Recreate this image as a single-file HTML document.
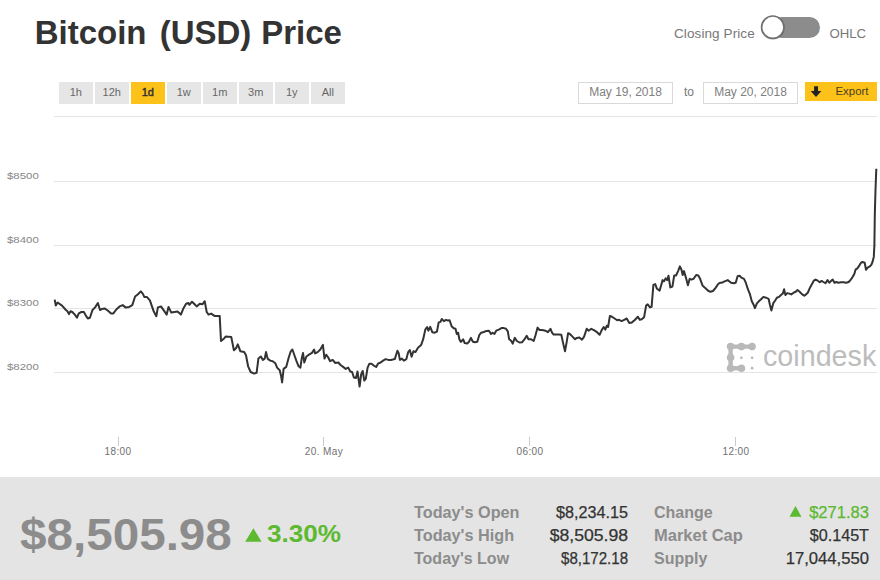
<!DOCTYPE html>
<html><head><meta charset="utf-8">
<style>
*{box-sizing:border-box;margin:0;padding:0}
html,body{width:880px;height:580px;overflow:hidden;background:#fff}
body{position:relative;font-family:"Liberation Sans",sans-serif;color:#333}
.abs{position:absolute;white-space:nowrap}
.tw{top:11px;font-size:33px;font-weight:bold;color:#333;line-height:44px}
.rb{top:82px;width:33.5px;height:22px;background:#e6e6e6;color:#666;font-size:11px;line-height:20px;text-align:center}
.rb.on{background:#fcc219;color:#333;-webkit-text-stroke:0.450px #333}
.inp{top:82px;height:22px;width:95px;border:1px solid #d9d9d9;background:#fff;color:#808080;font-size:12px;line-height:18px;text-align:center}
#to{left:684px;top:82px;font-size:12px;line-height:20px;color:#777}
#exp{left:805px;top:82px;width:72px;height:18.500px;background:#fcc219;color:#4a4020;font-size:11.400px;line-height:19.500px}
#cp{left:674px;top:26px;font-size:13.500px;letter-spacing:0.1px;line-height:16px;color:#777}
#ohlc{left:829.500px;top:26px;font-size:13.200px;line-height:16px;color:#777}
#tog{left:771px;top:17px;width:49px;height:21px;border-radius:10.500px;background:#8c8c8c}
#knob{left:761px;top:15.300px;width:24px;height:24px;border-radius:50%;background:#fff;border:1.600px solid #707070;box-shadow:0 1px 1.500px rgba(0,0,0,.3)}
.yl{left:7px;font-size:9.600px;color:#858585;line-height:12px;transform:scaleX(1.19);transform-origin:0 50%}
.xl{font-size:10px;color:#707070;line-height:12px;top:446px;text-align:center;width:60px;letter-spacing:0.4px}
#foot{left:0;top:477px;width:880px;height:103px;background:#e6e6e6}
#big{left:19.800px;top:508.200px;font-size:44.500px;font-weight:bold;color:#8c8c8c;line-height:54px;transform:scaleX(1.07);transform-origin:0 50%}
#pct{left:266.500px;top:519.400px;font-size:24.500px;font-weight:bold;color:#5cb930;line-height:30px;transform:scaleX(1.065);transform-origin:0 50%}
#cd{left:763px;top:338px;font-size:29.500px;line-height:36px;color:#bcbcbc;transform:scaleX(0.973);transform-origin:0 50%}
.sl{font-size:16px;font-weight:bold;color:#8c8c8c;line-height:20px}
.sv{font-size:16px;color:#333;line-height:20px;text-align:right;transform-origin:100% 50%;-webkit-text-stroke:0.25px #333}
.sl{transform-origin:0 50%}
</style></head><body>
<div class="abs tw" style="left:34.700px">Bitcoin</div><div class="abs tw" style="left:159.700px">(USD)</div><div class="abs tw" style="left:261.200px">Price</div>

<div id="cp" class="abs">Closing Price</div>
<div id="tog" class="abs"></div>
<div id="ohlc" class="abs">OHLC</div>

<div class="abs rb" style="left:59px">1h</div>
<div class="abs rb" style="left:95px">12h</div>
<div class="abs rb on" style="left:131px">1d</div>
<div class="abs rb" style="left:167px">1w</div>
<div class="abs rb" style="left:203px">1m</div>
<div class="abs rb" style="left:239px">3m</div>
<div class="abs rb" style="left:275px">1y</div>
<div class="abs rb" style="left:311px">All</div>

<div class="abs inp" style="left:578px">May 19, 2018</div>
<div id="to" class="abs">to</div>
<div class="abs inp" style="left:703px">May 20, 2018</div>
<div id="exp" class="abs"><span class="abs" style="left:30.500px">Export</span></div>

<svg class="abs" style="left:0;top:0" width="880" height="580" viewBox="0 0 880 580">
<rect x="0" y="477" width="880" height="103" fill="#e4e4e4"/>
<g stroke="#e4e4e4" stroke-width="1" shape-rendering="crispEdges">
<line x1="54" x2="877" y1="116.500" y2="116.500"/>
<line x1="54" x2="877" y1="181.500" y2="181.500"/>
<line x1="54" x2="877" y1="245.500" y2="245.500"/>
<line x1="54" x2="877" y1="308.500" y2="308.500"/>
<line x1="54" x2="877" y1="372.500" y2="372.500"/>
</g>
<g stroke="#c9cbd6" stroke-width="1" shape-rendering="crispEdges">
<line x1="118.500" x2="118.500" y1="437" y2="446"/>
<line x1="323.500" x2="323.500" y1="437" y2="446"/>
<line x1="529.500" x2="529.500" y1="437" y2="446"/>
<line x1="735.500" x2="735.500" y1="437" y2="446"/>
</g>
<path d="M245.200 541.800L253.400 528.300L261.600 541.800z" fill="#5cb930"/>
<path d="M789.500 516.800L795.500 506L801.500 516.800z" fill="#5cb930"/>
<path d="M814.100 86.200H818V91H821.400L816 97.100L810.700 91H814.100Z" fill="#222"/>
<circle cx="772.800" cy="28.100" r="11.800" fill="rgba(0,0,0,0.13)"/><circle cx="772.800" cy="27.200" r="11.200" fill="#fff" stroke="#707070" stroke-width="1.700"/>
<g fill="#b9b9b9" stroke="none">
<circle cx="730.6" cy="346.6" r="3.8"/><circle cx="741.4" cy="346.6" r="3.8"/><circle cx="752.1" cy="346.6" r="3.8"/>
<circle cx="730.6" cy="357.5" r="3.8"/><circle cx="730.6" cy="368.2" r="3.8"/><circle cx="741.4" cy="368.2" r="3.8"/>
<circle cx="741.4" cy="357.8" r="1.4"/><circle cx="752.1" cy="357.8" r="1.4"/><circle cx="752.1" cy="368.2" r="1.4"/>
</g>
<path d="M752.1 346.6H730.6V368.2H741.4" fill="none" stroke="#b9b9b9" stroke-width="4.400" stroke-linejoin="round"/>

<path d="M54.7 299.6 L55.8 305.6 L57.6 302.5 L62.0 305.6 L65.9 310.0 L67.1 310.8 L69.0 314.1 L70.5 311.3 L72.3 312.0 L74.9 314.6 L77.0 317.7 L78.8 313.3 L81.4 312.0 L83.9 312.0 L86.0 315.9 L87.8 318.5 L89.9 317.7 L92.5 310.0 L95.1 307.4 L97.9 303.0 L100.0 310.0 L102.0 308.9 L104.6 308.4 L107.7 310.5 L111.1 313.6 L113.2 313.6 L116.3 309.5 L119.6 306.4 L122.7 305.1 L125.8 307.6 L129.2 306.9 L132.3 305.1 L135.1 296.5 L137.7 294.5 L140.8 291.4 L142.9 293.9 L144.4 297.1 L147.0 297.1 L149.9 300.4 L151.7 305.6 L153.7 311.3 L156.3 316.2 L157.9 307.4 L161.0 306.4 L164.1 310.8 L166.7 314.6 L168.5 306.9 L171.3 312.6 L174.4 312.0 L177.5 311.5 L180.9 314.6 L183.5 308.2 L186.1 303.8 L188.4 303.0 L189.4 304.8 L192.0 301.7 L194.6 304.3 L196.7 306.4 L199.8 303.8 L202.4 304.3 L204.7 301.2 L206.7 312.0 L208.6 314.6 L211.1 313.6 L214.5 315.9 L219.7 315.9 L221.0 341.0 L224.1 338.4 L225.6 336.6 L231.3 337.1 L233.9 350.3 L236.0 348.2 L237.8 344.4 L240.4 351.3 L244.2 352.1 L246.0 355.2 L248.1 366.3 L250.7 372.0 L254.1 373.6 L256.6 372.8 L258.4 358.6 L260.9 356.5 L262.9 359.9 L264.7 358.6 L266.0 352.1 L267.6 358.6 L270.2 360.6 L272.7 361.2 L275.3 363.2 L277.1 367.6 L279.7 370.2 L281.0 375.4 L282.1 382.4 L283.6 368.9 L286.2 366.9 L288.8 357.3 L290.8 351.3 L292.4 349.5 L294.5 355.5 L296.5 361.2 L298.6 366.3 L300.4 367.6 L301.7 358.6 L303.0 352.9 L304.3 362.5 L306.4 356.5 L308.9 354.7 L312.0 352.9 L314.1 349.5 L315.1 353.4 L317.7 352.1 L320.3 349.5 L322.9 344.9 L324.5 358.6 L326.3 354.7 L328.1 357.3 L330.1 361.2 L332.7 359.9 L335.3 363.0 L338.4 362.5 L340.5 365.0 L343.1 366.9 L345.7 368.9 L348.2 367.6 L350.3 371.5 L352.1 372.0 L353.9 377.5 L356.0 378.0 L357.5 371.5 L359.6 386.5 L361.2 374.1 L362.7 371.0 L364.3 380.6 L365.8 378.7 L367.6 367.6 L369.4 363.7 L371.5 363.7 L374.1 365.8 L376.2 366.9 L378.0 363.7 L380.6 362.5 L383.1 360.6 L385.7 359.1 L388.3 359.9 L390.9 359.9 L394.8 359.1 L397.4 350.8 L398.6 352.9 L399.9 359.9 L402.0 358.6 L403.8 360.6 L406.4 359.1 L408.2 352.1 L409.8 350.0 L411.6 356.8 L413.4 351.3 L415.5 352.1 L418.0 347.7 L421.1 345.1 L423.2 339.2 L425.3 329.6 L427.1 327.0 L428.4 330.7 L430.2 326.8 L432.3 332.2 L434.8 332.7 L436.9 331.7 L438.7 322.4 L440.5 321.9 L441.8 319.0 L443.9 321.1 L446.0 319.8 L447.8 320.6 L449.6 320.3 L451.6 326.3 L453.7 328.3 L455.5 328.8 L456.8 334.0 L458.1 332.7 L459.4 339.2 L460.7 341.8 L461.3 341.8 L463.1 339.2 L464.7 343.1 L467.2 343.6 L469.0 341.8 L470.9 337.9 L472.9 341.8 L475.0 342.3 L477.3 341.8 L479.4 334.8 L481.2 332.7 L483.8 332.0 L486.4 330.9 L489.0 330.7 L491.0 334.0 L492.6 332.7 L494.4 334.0 L496.2 330.7 L498.8 329.6 L501.4 328.1 L503.9 328.1 L506.0 328.8 L507.8 331.4 L509.1 339.2 L510.9 340.5 L512.7 343.6 L514.8 337.9 L516.9 341.0 L519.5 342.5 L522.0 342.3 L524.6 339.2 L526.7 335.8 L528.5 339.2 L531.1 339.2 L533.7 341.0 L535.5 335.3 L537.6 327.6 L539.6 330.1 L542.2 330.1 L545.3 330.7 L547.9 332.2 L550.5 328.8 L552.0 332.7 L553.6 334.5 L556.2 334.5 L558.8 334.5 L561.3 334.8 L563.4 344.4 L565.0 351.3 L566.5 343.1 L568.1 333.2 L569.9 334.0 L572.5 336.6 L575.0 339.2 L576.9 337.9 L579.4 337.4 L582.0 339.7 L584.1 336.6 L586.7 328.8 L588.7 330.7 L591.3 328.8 L593.9 330.1 L597.0 332.2 L599.6 334.8 L601.7 330.1 L603.7 327.0 L605.3 329.6 L606.8 325.7 L608.1 327.0 L609.9 315.9 L612.0 316.7 L614.6 318.5 L617.2 320.3 L619.0 319.8 L621.6 321.1 L624.2 319.8 L626.7 318.5 L629.3 322.9 L631.9 322.4 L634.5 320.3 L637.9 316.7 L639.7 319.8 L641.7 319.3 L644.1 317.2 L646.1 305.6 L647.7 304.3 L650.0 307.4 L651.6 306.9 L653.4 284.9 L655.2 284.1 L657.0 288.8 L659.6 290.6 L661.3 284.8 L662.6 280.1 L663.9 281.4 L665.7 278.3 L667.2 280.1 L668.5 275.7 L670.3 287.4 L672.4 286.6 L674.2 275.5 L676.0 275.5 L678.1 271.1 L679.9 266.4 L681.5 269.8 L682.7 275.0 L684.0 271.1 L685.9 277.6 L687.9 285.3 L689.7 278.8 L691.5 279.6 L693.6 278.8 L696.2 275.0 L698.3 275.5 L700.1 278.8 L702.7 285.8 L705.2 287.9 L707.8 290.5 L710.4 291.8 L713.0 291.0 L715.6 287.9 L718.2 284.0 L720.0 282.7 L722.0 282.7 L724.6 281.4 L727.7 280.1 L731.1 282.7 L733.7 283.2 L735.7 282.7 L737.6 276.3 L739.6 275.7 L741.4 277.6 L744.0 278.8 L745.8 282.7 L747.9 289.2 L750.0 294.4 L751.8 301.3 L753.6 304.7 L754.9 308.1 L756.9 303.4 L758.8 301.3 L760.8 299.5 L763.4 296.9 L766.0 297.7 L768.6 298.8 L769.9 304.7 L771.4 310.6 L773.2 303.4 L775.0 300.8 L776.9 297.7 L778.9 296.9 L781.0 295.1 L782.8 293.6 L784.1 289.2 L785.4 295.1 L787.2 293.1 L789.3 293.6 L791.3 294.4 L793.9 292.5 L795.7 291.8 L797.5 290.0 L799.6 291.8 L802.2 294.4 L804.3 295.7 L806.1 294.4 L807.9 292.5 L809.9 287.9 L812.0 284.0 L813.8 280.7 L815.6 279.6 L817.7 280.7 L819.8 282.2 L821.6 280.9 L823.4 282.0 L825.5 283.2 L827.5 280.1 L829.3 282.7 L831.1 280.9 L832.7 279.6 L834.5 282.7 L836.3 282.0 L838.4 282.7 L841.0 282.2 L843.5 282.2 L846.1 282.7 L848.7 282.0 L850.8 279.6 L852.6 277.0 L854.4 273.7 L855.7 269.3 L857.3 268.5 L859.1 265.9 L860.9 262.8 L862.4 262.0 L864.7 262.8 L866.0 269.8 L867.6 267.7 L869.4 266.7 L871.2 265.1 L872.5 262.0 L873.8 256.9 L874.4 245 L874.8 215 L875.5 190 L876.3 168.8" fill="none" stroke="#333" stroke-width="2" stroke-linejoin="round" stroke-linecap="butt"/>
</svg>

<div class="abs yl" style="top:170px">$8500</div>
<div class="abs yl" style="top:234px">$8400</div>
<div class="abs yl" style="top:297px">$8300</div>
<div class="abs yl" style="top:361px">$8200</div>

<div class="abs xl" style="left:88px">18:00</div>
<div class="abs xl" style="left:294px">20. May</div>
<div class="abs xl" style="left:500px">06:00</div>
<div class="abs xl" style="left:706px">12:00</div>

<div id="cd" class="abs">coindesk</div>
<div id="big" class="abs">$8,505.98</div>
<div id="pct" class="abs">3.30%</div>

<div class="abs sl" style="left:414px;top:502.500px;transform:scaleX(1.015)">Today's Open</div>
<div class="abs sl" style="left:414px;top:525.500px;transform:scaleX(1.015)">Today's High</div>
<div class="abs sl" style="left:414px;top:548.500px">Today's Low</div>
<div class="abs sv" style="left:528px;width:100px;top:502.500px;transform:scaleX(1.01)">$8,234.15</div>
<div class="abs sv" style="left:528px;width:100px;top:525.500px;transform:scaleX(1.10)">$8,505.98</div>
<div class="abs sv" style="left:528px;width:100px;top:548.500px;transform:scaleX(0.94)">$8,172.18</div>
<div class="abs sl" style="left:654px;top:502.500px">Change</div>
<div class="abs sl" style="left:654px;top:525.500px;transform:scaleX(1.03)">Market Cap</div>
<div class="abs sl" style="left:654px;top:548.500px">Supply</div>
<div class="abs sv" style="left:748.500px;width:120px;top:502.500px;color:#5cb930;transform:scaleX(1.035);-webkit-text-stroke:0.25px #5cb930">$271.83</div>
<div class="abs sv" style="left:748.500px;width:120px;top:525.500px;transform:scaleX(1.01)">$0.145T</div>
<div class="abs sv" style="left:748.500px;width:120px;top:548.500px;transform:scaleX(1.04)">17,044,550</div>
</body></html>
